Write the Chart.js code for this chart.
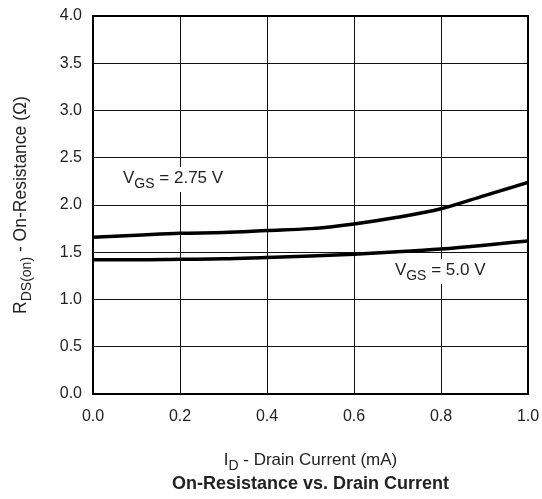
<!DOCTYPE html>
<html>
<head>
<meta charset="utf-8">
<script src="https://cdn.jsdelivr.net/npm/chart.js@4"></script>
<style>
  html, body { margin: 0; padding: 0; background: #fff; }
  #wrap { width: 542px; height: 499px; }
</style>
</head>
<body>
<div id="wrap"><canvas id="rdsChart" width="542" height="499"></canvas></div>
<script>
// On-resistance vs drain current, two gate voltages
const drainCurrent = [0, 0.1, 0.2, 0.3, 0.4, 0.5, 0.6, 0.7, 0.8, 0.9, 1.0];
const rdsVgs275 = [1.66, 1.68, 1.70, 1.71, 1.73, 1.75, 1.80, 1.87, 1.96, 2.10, 2.24];
const rdsVgs50 = [1.42, 1.42, 1.425, 1.43, 1.445, 1.46, 1.48, 1.505, 1.535, 1.575, 1.62];
const xTicks = [0, 0.2, 0.4, 0.6, 0.8, 1.0];
const yTicks = [0, 0.5, 1.0, 1.5, 2.0, 2.5, 3.0, 3.5, 4.0];

const FONT = '"Liberation Sans", Arial, sans-serif';
const TEXT = '#222';

// draw text made of normal + subscript pieces
function drawRich(ctx, parts, x, y, size, align) {
  const widths = parts.map((p) => {
    ctx.font = (p.sub ? Math.round(size * 0.8) : size) + 'px ' + FONT;
    return ctx.measureText(p.t).width;
  });
  const total = widths.reduce((a, b) => a + b, 0);
  let cx = align === 'center' ? x - total / 2 : x;
  parts.forEach((p, i) => {
    ctx.font = (p.sub ? Math.round(size * 0.8) : size) + 'px ' + FONT;
    ctx.fillText(p.t, cx, p.sub ? y + size * 0.3 : y);
    cx += widths[i];
  });
  return total;
}

const labelsPlugin = {
  id: 'labelsPlugin',
  afterDraw(chart) {
    const { ctx, chartArea: a, scales } = chart;
    ctx.save();
    // frame
    ctx.strokeStyle = '#000';
    ctx.lineWidth = 2;
    ctx.strokeRect(a.left, a.top, a.right - a.left, a.bottom - a.top);

    ctx.fillStyle = TEXT;
    ctx.textBaseline = 'alphabetic';
    ctx.textAlign = 'left';

    // curve labels with white backing
    const notes = [
      { parts: [{ t: 'V' }, { t: 'GS', sub: true }, { t: ' = 2.75 V' }], x: 0.069, y: 2.233 },
      { parts: [{ t: 'V' }, { t: 'GS', sub: true }, { t: ' = 5.0 V' }], x: 0.694, y: 1.259 },
    ];
    notes.forEach((n) => {
      const px = scales.x.getPixelForValue(n.x);
      const py = scales.y.getPixelForValue(n.y);
      ctx.fillStyle = '#fff';
      ctx.fillRect(px - 3, py - 16, 106, 25);
      ctx.fillStyle = TEXT;
      drawRich(ctx, n.parts, px, py, 17, 'left');
    });

    // x axis title
    const midX = (a.left + a.right) / 2;
    drawRich(ctx, [{ t: 'I' }, { t: 'D', sub: true }, { t: ' - Drain Current (mA)' }], midX, 465, 17, 'center');

    // chart title
    ctx.font = 'bold 18px ' + FONT;
    ctx.textAlign = 'center';
    ctx.fillText('On-Resistance vs. Drain Current', midX, 489);

    // y axis title (rotated)
    ctx.textAlign = 'left';
    ctx.translate(26, (a.top + a.bottom) / 2);
    ctx.rotate(-Math.PI / 2);
    drawRich(ctx, [{ t: 'R' }, { t: 'DS(on)', sub: true }, { t: ' - On-Resistance (Ω)' }], 0, 0, 17.5, 'center');
    ctx.restore();
  },
};

new Chart(document.getElementById('rdsChart'), {
  type: 'line',
  data: {
    datasets: [
      {
        label: 'VGS = 2.75 V',
        data: drainCurrent.map((x, i) => ({ x, y: rdsVgs275[i] })),
        borderColor: '#000',
        borderWidth: 3.5,
        pointRadius: 0,
        cubicInterpolationMode: 'monotone',
      },
      {
        label: 'VGS = 5.0 V',
        data: drainCurrent.map((x, i) => ({ x, y: rdsVgs50[i] })),
        borderColor: '#000',
        borderWidth: 3.5,
        pointRadius: 0,
        cubicInterpolationMode: 'monotone',
      },
    ],
  },
  options: {
    responsive: false,
    animation: false,
    layout: { padding: { top: 16, right: 14, left: 0, bottom: 0 } },
    plugins: { legend: { display: false }, tooltip: { enabled: false } },
    scales: {
      x: {
        type: 'linear',
        min: 0,
        max: 1,
        afterBuildTicks: (s) => { s.ticks = xTicks.map((v) => ({ value: v })); },
        afterFit: (s) => { s.height = 105; s.paddingLeft = 0; s.paddingRight = 0; },
        ticks: { color: TEXT, font: { family: FONT, size: 16 }, padding: 13, maxRotation: 0, callback: (v) => v.toFixed(1) },
        grid: { color: '#111', lineWidth: 1, drawTicks: false },
        border: { color: '#000', width: 2 },
      },
      y: {
        min: 0,
        max: 4,
        afterBuildTicks: (s) => { s.ticks = yTicks.map((v) => ({ value: v })); },
        afterFit: (s) => { s.width = 93; s.paddingTop = 0; s.paddingBottom = 0; },
        ticks: { color: TEXT, font: { family: FONT, size: 16 }, padding: 11, callback: (v) => v.toFixed(1) },
        grid: { color: '#111', lineWidth: 1, drawTicks: false },
        border: { color: '#000', width: 2 },
      },
    },
  },
  plugins: [labelsPlugin],
});
</script>
</body>
</html>
